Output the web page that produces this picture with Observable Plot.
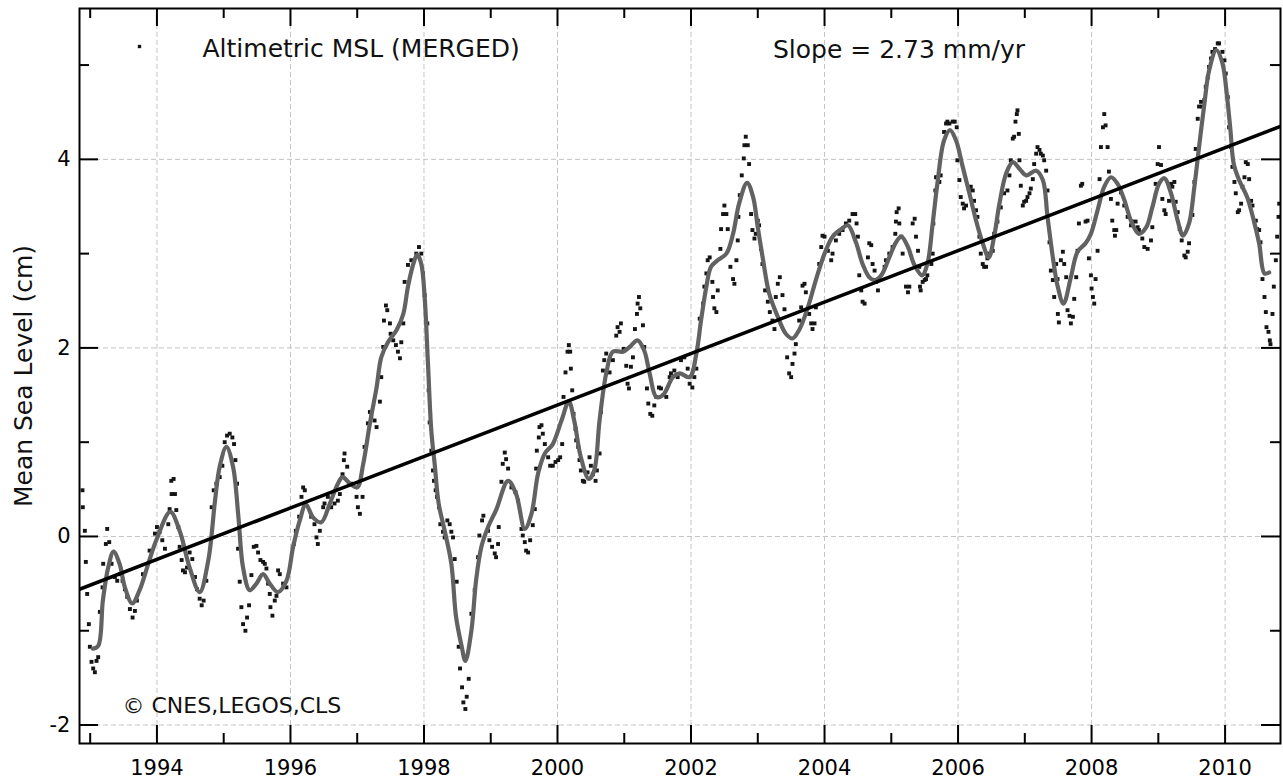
<!DOCTYPE html>
<html><head><meta charset="utf-8">
<script src="https://cdn.jsdelivr.net/npm/d3@7"></script>
<script src="https://cdn.jsdelivr.net/npm/@observablehq/plot@0.6"></script>
<style>body{margin:0;background:#fff}</style>
</head><body><div id="chart"></div>
<script>
// ---- data ----
const dotYear = [
1992.885,1992.89,1992.92,1992.935,1992.955,1992.98,1992.995,1993.02,1993.045,1993.07,1993.095,1993.12,1993.145,1993.185,1993.195,1993.235,1993.255,1993.285,1993.32,1993.37,1993.405,1993.445,1993.485,1993.52,1993.555,1993.595,1993.635,1993.67,1993.70,1993.79,1993.89,1993.97,1994.00,1994.04,1994.08,1994.12,1994.17,1994.19,1994.215,1994.22,1994.25,1994.27,1994.29,1994.32,1994.34,1994.37,1994.39,1994.42,1994.45,1994.49,1994.53,1994.57,1994.60,1994.64,1994.67,1994.70,1994.74,1994.82,1994.85,1994.89,1994.94,1994.98,1995.015,1995.05,1995.09,1995.13,1995.155,1995.175,1995.20,1995.215,1995.24,1995.265,1995.29,1995.325,1995.35,1995.38,1995.415,1995.45,
1995.49,1995.515,1995.55,1995.59,1995.615,1995.64,1995.665,1995.69,1995.70,1995.73,1995.765,1995.79,1995.815,1995.84,1995.89,1995.94,1996.05,1996.08,1996.13,1996.165,1996.19,1996.215,1996.31,1996.36,1996.39,1996.41,1996.44,1996.49,1996.51,1996.56,1996.61,1996.66,1996.71,1996.74,1996.78,1996.80,1996.81,1996.85,1996.91,1996.99,1997.01,1997.04,1997.08,1997.11,1997.16,1997.19,1997.21,1997.26,1997.29,1997.34,1997.36,1997.39,1997.40,1997.43,1997.45,1997.49,1997.50,1997.54,1997.58,1997.61,1997.64,1997.66,1997.69,1997.71,1997.76,1997.81,1997.885,1997.925,1997.96,1997.985,1998.01,1998.05,1998.07,1998.085,1998.11,1998.135,1998.15,1998.175,1998.195,1998.225,1998.245,1998.285,1998.31,1998.35,1998.385,1998.41,1998.435,1998.46,
1998.49,1998.52,1998.54,1998.57,1998.59,1998.62,1998.64,1998.67,1998.71,1998.76,1998.81,1998.83,1998.87,1998.89,1998.96,1998.98,1999.02,1999.06,1999.08,1999.11,1999.12,1999.16,1999.18,1999.21,1999.23,1999.26,1999.31,1999.37,1999.41,1999.46,1999.48,1999.51,1999.53,1999.56,1999.59,1999.63,1999.66,1999.68,1999.69,1999.72,1999.73,1999.76,1999.78,1999.81,1999.86,1999.89,1999.93,1999.97,2000.01,2000.04,2000.07,2000.09,2000.12,2000.15,2000.17,2000.19,2000.20,2000.22,2000.24,2000.27,2000.28,2000.31,2000.33,2000.35,2000.38,2000.40,2000.45,2000.48,2000.50,2000.53,2000.57,2000.59,2000.63,2000.65,2000.68,2000.70,2000.73,2000.78,2000.83,2000.88,2000.90,2000.93,2000.95,2000.99,2001.03,2001.05,2001.07,2001.10,2001.13,2001.16,2001.19,2001.20,2001.22,2001.24,2001.28,2001.30,2001.34,2001.36,2001.39,2001.42,2001.45,2001.48,2001.52,2001.55,2001.59,
2001.63,2001.68,2001.70,2001.75,2001.80,2001.85,2001.90,2001.95,2001.98,2002.02,2002.05,2002.08,2002.13,2002.18,2002.20,2002.23,2002.25,2002.28,2002.32,2002.33,2002.35,2002.38,2002.40,2002.44,2002.45,2002.48,2002.50,2002.53,2002.55,2002.59,2002.63,2002.65,2002.68,2002.70,2002.71,2002.73,2002.76,2002.79,2002.80,2002.82,2002.85,2002.87,2002.90,2002.92,2002.95,2002.97,2003.00,2003.02,2003.05,2003.07,2003.11,2003.15,2003.18,2003.22,2003.25,2003.27,2003.30,2003.33,2003.37,2003.40,2003.44,2003.47,2003.50,2003.52,2003.55,2003.57,2003.62,2003.65,2003.67,2003.70,2003.72,2003.77,2003.80,2003.82,2003.85,2003.87,2003.92,2003.95,2003.97,2004.00,2004.05,2004.10,2004.12,2004.17,2004.22,2004.27,2004.32,2004.37,2004.42,2004.46,
2004.48,2004.50,2004.52,2004.55,2004.57,2004.60,2004.65,2004.67,2004.70,2004.72,2004.75,2004.77,2004.80,2004.90,2004.92,2004.97,2005.02,2005.06,2005.07,2005.08,2005.11,2005.12,2005.15,2005.17,2005.22,2005.25,2005.27,2005.32,2005.35,2005.37,2005.40,2005.42,2005.43,2005.44,2005.47,2005.50,2005.52,2005.54,2005.60,2005.62,2005.63,2005.66,2005.67,2005.69,2005.72,2005.74,2005.79,2005.82,2005.84,2005.87,2005.92,2005.95,2005.98,2005.99,2006.02,2006.04,2006.07,2006.09,2006.12,2006.16,2006.19,2006.22,2006.24,2006.27,2006.29,2006.32,2006.34,2006.37,2006.39,2006.42,2006.44,2006.47,2006.52,2006.54,2006.57,2006.59,2006.64,2006.69,2006.74,2006.77,2006.79,2006.82,2006.84,2006.86,2006.88,2006.89,2006.91,2006.92,2006.94,2006.97,2006.99,2007.02,2007.04,2007.07,2007.09,2007.12,2007.14,2007.17,2007.19,2007.22,2007.24,2007.27,2007.29,2007.32,2007.34,2007.37,2007.39,2007.42,2007.44,
2007.47,2007.49,2007.495,2007.51,2007.54,2007.57,2007.59,2007.62,2007.64,2007.67,2007.69,2007.72,2007.74,2007.77,2007.79,2007.81,2007.84,2007.86,2007.91,2007.94,2007.96,2007.99,2008.00,2008.02,2008.04,2008.06,2008.09,2008.12,2008.14,2008.17,2008.19,2008.21,2008.24,2008.26,2008.29,2008.31,2008.34,2008.35,2008.37,2008.39,2008.44,2008.49,2008.54,2008.59,2008.61,2008.66,2008.69,2008.71,2008.76,2008.79,2008.84,2008.89,2008.91,2008.96,2008.99,2009.01,2009.04,2009.06,2009.09,2009.11,2009.16,2009.19,2009.21,2009.24,2009.26,2009.29,2009.32,2009.35,2009.39,2009.41,2009.44,2009.46,2009.51,2009.54,2009.56,2009.59,2009.61,2009.64,2009.66,2009.69,2009.71,2009.74,2009.76,2009.79,2009.81,2009.85,2009.89,2009.91,2009.96,2009.99,2010.01,2010.04,2010.06,2010.09,2010.11,2010.14,2010.16,2010.19,2010.21,2010.24,2010.26,2010.29,2010.31,2010.34,2010.36,2010.39,2010.41,2010.46,2010.48,2010.51,2010.53,2010.56,2010.59,2010.61,2010.62,2010.65,2010.67,2010.68,2010.71,2010.73,2010.76,2010.78,2010.80,2010.81
];
const dotMSL = [
0.49,0.31,0.06,-0.27,-0.61,-0.93,-1.17,-1.33,-1.40,-1.44,-1.32,-1.28,-0.80,-0.54,-0.29,-0.08,0.08,-0.06,-0.29,-0.43,-0.47,-0.40,-0.47,-0.56,-0.64,-0.77,-0.86,-0.79,-0.68,-0.40,-0.15,0.03,0.10,0.05,-0.04,-0.13,0.13,0.29,0.59,0.45,0.61,0.45,0.28,0.10,-0.11,-0.25,-0.36,-0.38,-0.33,-0.17,-0.24,-0.43,-0.56,-0.66,-0.73,-0.68,-0.47,0.31,0.49,0.56,0.63,0.75,1.00,1.07,1.09,1.05,0.98,0.81,0.56,-0.13,-0.48,-0.75,-0.93,-1.00,-0.86,-0.73,-0.41,-0.11,
-0.10,-0.17,-0.25,-0.27,-0.29,-0.34,-0.50,-0.61,-0.75,-0.84,-0.68,-0.63,-0.36,-0.40,-0.50,-0.54,-0.08,0.06,0.21,0.42,0.52,0.49,0.21,0.13,-0.01,-0.08,0.06,0.31,0.35,0.42,0.31,0.35,0.38,0.45,0.66,0.81,0.88,0.74,0.56,0.42,0.31,0.24,0.42,0.95,1.20,1.32,1.27,1.23,1.16,1.43,1.69,2.01,2.29,2.45,2.40,2.26,2.15,2.08,2.03,1.96,1.89,2.06,2.26,2.70,2.88,2.93,3.00,3.07,3.00,2.79,2.56,2.26,1.55,1.21,0.91,0.70,0.59,0.49,0.42,0.31,0.13,0.05,-0.01,0.17,0.13,0.05,-0.01,-0.24,
-0.48,-1.17,-1.40,-1.60,-1.76,-1.83,-1.70,-1.51,-0.82,-0.57,-0.22,0.01,0.17,0.22,0.06,-0.04,-0.11,-0.18,-0.22,-0.08,0.10,0.58,0.77,0.89,0.82,0.72,0.52,0.47,0.38,0.08,0.01,-0.06,-0.15,-0.17,-0.04,0.12,0.29,0.72,0.91,1.05,1.16,1.18,1.09,0.98,0.84,0.75,0.75,0.79,0.81,0.84,0.98,1.48,1.74,1.96,2.03,1.96,1.78,1.55,1.30,1.14,1.02,0.95,0.81,0.70,0.59,0.58,0.68,0.84,0.75,0.66,0.59,0.70,0.88,1.32,1.76,1.87,1.94,1.74,1.87,2.13,2.22,2.17,2.26,1.99,1.81,1.62,1.57,1.80,1.90,2.20,2.36,2.47,2.54,2.42,2.24,2.01,1.57,1.41,1.30,1.28,1.39,1.48,1.58,1.57,1.50,
1.48,1.69,1.73,1.76,1.69,1.87,1.90,1.78,1.62,1.58,1.69,1.78,2.31,2.47,2.65,2.79,2.93,2.96,2.70,2.54,2.42,2.38,2.61,3.05,3.26,3.42,3.51,3.42,3.26,2.86,2.73,2.68,2.93,3.14,3.39,3.62,3.83,4.01,4.15,4.24,4.15,3.95,3.42,3.25,3.16,3.21,3.35,3.30,3.05,2.89,2.61,2.49,2.38,2.29,2.20,2.54,2.68,2.75,2.56,2.41,1.90,1.73,1.69,1.83,1.94,2.04,2.29,2.43,2.66,2.68,2.59,2.36,2.26,2.20,2.26,2.43,2.89,3.07,3.19,3.18,3.03,2.93,3.00,3.14,3.21,3.25,3.32,3.35,3.42,3.42,
3.32,3.18,2.77,2.61,2.49,2.47,2.96,3.11,3.09,2.89,2.82,2.70,2.61,2.86,2.93,3.00,3.07,3.21,3.34,3.44,3.48,3.32,3.18,3.00,2.65,2.59,2.65,3.32,3.37,3.18,3.03,2.86,2.65,2.61,2.70,2.72,2.73,2.77,2.89,3.00,3.32,3.67,3.81,3.81,3.76,3.83,4.29,4.38,4.40,4.38,4.40,4.40,4.34,3.99,3.78,3.60,3.53,3.48,3.51,3.69,3.71,3.67,3.56,3.46,3.39,3.18,3.00,2.89,2.86,2.86,2.95,3.00,3.03,3.21,3.30,3.34,3.49,3.64,3.67,3.83,3.99,4.22,4.24,4.40,4.48,4.52,4.27,3.99,3.72,3.51,3.55,3.56,3.60,3.64,3.69,3.79,3.95,4.06,4.13,4.10,4.06,4.04,3.99,3.88,3.67,3.12,2.82,2.72,2.54,
2.89,2.73,2.36,2.27,2.93,3.02,2.89,2.75,2.40,2.34,2.26,2.33,2.52,2.75,3.03,3.32,3.72,3.74,3.34,3.35,2.95,2.77,2.63,2.54,2.47,2.73,3.03,3.79,4.13,4.34,4.48,4.36,4.13,3.87,3.58,3.35,3.25,3.19,3.25,3.53,3.65,3.51,3.39,3.30,3.34,3.34,3.28,3.25,3.16,3.07,3.05,3.14,3.28,3.74,3.95,4.13,3.94,3.58,3.46,3.42,3.56,3.74,3.71,3.76,3.55,3.44,3.26,3.14,2.98,2.96,3.02,3.11,3.41,3.76,4.11,4.43,4.56,4.61,4.56,4.63,4.77,4.87,4.98,5.07,5.14,5.17,5.23,5.23,5.14,5.05,4.91,4.66,4.34,4.13,3.92,3.76,3.64,3.44,3.46,3.53,3.71,3.81,3.97,3.95,3.79,3.56,3.51,3.35,3.26,3.25,3.12,2.73,2.54,2.38,2.22,2.17,2.08,2.04,2.36,2.65,2.93,3.18,3.39,3.53
];
const smoothYear = [
1993.04,1993.12,1993.19,1993.27,1993.35,1993.44,1993.52,1993.63,1993.74,1993.87,1993.99,1994.20,1994.34,1994.49,1994.64,1994.77,1994.87,1994.94,1995.04,1995.14,1995.22,1995.29,1995.39,1995.49,1995.59,1995.69,1995.81,1995.94,1996.04,1996.14,1996.23,1996.34,1996.46,1996.59,1996.71,1996.78,1996.89,1997.00,1997.09,1997.19,1997.29,1997.36,1997.46,1997.59,1997.69,1997.76,1997.84,1997.90,1997.96,1998.01,1998.06,1998.11,1998.16,1998.22,1998.31,1998.41,1998.48,1998.56,1998.62,1998.71,1998.78,1998.86,1998.96,1999.08,1999.26,1999.38,1999.51,1999.61,1999.71,1999.81,1999.93,2000.06,2000.17,2000.25,2000.35,2000.47,2000.55,2000.63,2000.73,2000.83,2000.98,2001.08,2001.20,2001.30,2001.38,2001.48,2001.58,2001.73,2001.83,2001.98,2002.08,2002.15,2002.23,2002.30,2002.40,2002.53,2002.63,2002.72,2002.84,2002.93,2003.00,2003.08,2003.17,2003.30,2003.42,2003.52,2003.62,2003.75,2003.87,2004.00,2004.12,2004.25,2004.35,2004.47,2004.57,2004.67,2004.75,2004.85,2004.97,2005.07,2005.15,2005.25,2005.34,2005.46,2005.54,2005.62,2005.69,2005.79,2005.88,2005.97,2006.07,2006.17,2006.27,2006.37,2006.46,2006.54,2006.62,2006.72,2006.82,2006.92,2007.02,2007.17,2007.27,2007.34,2007.42,2007.49,2007.58,2007.69,2007.79,2007.91,2007.99,2008.09,2008.19,2008.29,2008.39,2008.49,2008.59,2008.71,2008.82,2008.91,2009.01,2009.09,2009.19,2009.29,2009.37,2009.46,2009.54,2009.61,2009.69,2009.76,2009.87,2009.96,2010.03,2010.08,2010.13,2010.21,2010.33,2010.43,2010.51,2010.59,2010.66
];
const smoothMSL = [
-1.19,-1.16,-0.68,-0.33,-0.16,-0.29,-0.54,-0.71,-0.57,-0.29,-0.04,0.26,0.06,-0.33,-0.59,-0.25,0.38,0.74,0.95,0.74,0.21,-0.33,-0.57,-0.50,-0.40,-0.50,-0.59,-0.47,-0.11,0.17,0.34,0.20,0.15,0.35,0.56,0.63,0.56,0.52,0.77,1.20,1.58,1.90,2.06,2.19,2.36,2.65,2.89,2.99,2.89,2.54,1.83,1.12,0.77,0.35,0.06,-0.29,-0.85,-1.15,-1.32,-1.00,-0.47,-0.11,0.10,0.28,0.59,0.45,0.08,0.24,0.67,0.88,0.98,1.23,1.43,1.23,0.84,0.61,0.70,1.23,1.73,1.96,1.96,2.01,2.08,1.97,1.73,1.48,1.50,1.69,1.73,1.69,1.94,2.29,2.65,2.86,2.93,3.00,3.21,3.53,3.75,3.60,3.28,2.93,2.58,2.33,2.15,2.10,2.19,2.43,2.72,3.00,3.18,3.26,3.30,3.12,2.89,2.75,2.72,2.77,2.96,3.12,3.18,3.07,2.89,2.77,2.89,3.32,3.74,4.20,4.31,4.20,3.92,3.64,3.35,3.11,2.96,3.18,3.53,3.85,3.97,3.90,3.83,3.88,3.78,3.39,2.96,2.66,2.47,2.75,3.02,3.11,3.21,3.46,3.71,3.81,3.74,3.57,3.35,3.21,3.28,3.49,3.74,3.80,3.64,3.35,3.19,3.32,3.71,4.13,4.59,4.94,5.16,5.02,4.66,4.31,3.95,3.78,3.60,3.35,3.11,2.79,2.80
];
const trendYear = [1992.84, 2010.83];
const trendMSL = [-0.56, 4.35];
const xMajor = [1994, 1996, 1998, 2000, 2002, 2004, 2006, 2008, 2010];
const xMinor = [1993, 1995, 1997, 1999, 2001, 2003, 2005, 2007, 2009];
const yMajor = [-2, 0, 2, 4];
const yMinor = [-1, 1, 3, 5];
const legendLabel = "Altimetric MSL (MERGED)";
const slopeLabel = "Slope = 2.73 mm/yr";
const creditLabel = "\u00A9 CNES,LEGOS,CLS";
const yTitle = "Mean Sea Level (cm)";

// ---- build ----
const dots = dotYear.map((t, i) => ({t, v: dotMSL[i]}));
const smooth = smoothYear.map((t, i) => ({t, v: smoothMSL[i]}));
const trend = trendYear.map((t, i) => ({t, v: trendMSL[i]}));

const W = 1283, H = 780, mL = 79, mR = 3, mT = 8, mB = 37;
const innerW = W - mL - mR, innerH = H - mT - mB;
const majLen = 18, minLen = 10;
const tickStyle = {stroke: "#000", strokeWidth: 2};
const gridStyle = {stroke: "#c4c4c4", strokeWidth: 1, strokeDasharray: "5,3"};

const chart = Plot.plot({
  width: W, height: H,
  marginLeft: mL, marginRight: mR, marginTop: mT, marginBottom: mB,
  style: {fontFamily: "DejaVu Sans", background: "#fff", color: "#000", overflow: "visible"},
  x: {domain: [1992.84, 2010.83]},
  y: {domain: [-2.196, 5.6]},
  marks: [
    Plot.ruleX(xMajor, {x: d => d, ...gridStyle}),
    Plot.ruleY(yMajor, {y: d => d, ...gridStyle}),
    Plot.dot(dots, {x: "t", y: "v", symbol: "square", r: 2.2, fill: "#151515", clip: true}),
    Plot.line(smooth, {x: "t", y: "v", stroke: "#626262", strokeWidth: 4.2, curve: "catmull-rom", clip: true}),
    Plot.line(trend, {x: "t", y: "v", stroke: "#000", strokeWidth: 3.5, clip: true}),
    // inward ticks: bottom / top
    Plot.tickX(xMajor, {x: d => d, insetTop: innerH - majLen, ...tickStyle}),
    Plot.tickX(xMinor, {x: d => d, insetTop: innerH - minLen, ...tickStyle}),
    Plot.tickX(xMajor, {x: d => d, insetBottom: innerH - majLen, ...tickStyle}),
    Plot.tickX(xMinor, {x: d => d, insetBottom: innerH - minLen, ...tickStyle}),
    // inward ticks: left / right
    Plot.tickY(yMajor, {y: d => d, insetRight: innerW - majLen - 1, ...tickStyle}),
    Plot.tickY(yMinor, {y: d => d, insetRight: innerW - minLen, ...tickStyle}),
    Plot.tickY(yMajor, {y: d => d, insetLeft: innerW - majLen - 1, ...tickStyle}),
    Plot.tickY(yMinor, {y: d => d, insetLeft: innerW - minLen, ...tickStyle}),
    Plot.frame({stroke: "#000", strokeWidth: 2}),
    Plot.axisX({ticks: xMajor, tickSize: 0, tickPadding: 17, fontSize: 21, tickFormat: d => String(d), label: null}),
    Plot.axisY({ticks: yMajor, tickSize: 0, tickPadding: 9, fontSize: 21, tickFormat: d => String(d), label: null}),
    Plot.text([yTitle], {frameAnchor: "left", text: d => d, dx: -56, rotate: -90, textAnchor: "middle", lineAnchor: "middle", fontSize: 25, fill: "#111"}),
    Plot.dot([legendLabel], {frameAnchor: "top-left", dx: 60, dy: 38, symbol: "square", r: 1.9, fill: "#151515"}),
    Plot.text([legendLabel], {frameAnchor: "top-left", text: d => d, dx: 123, dy: 48, textAnchor: "start", lineAnchor: "bottom", fontSize: 25, fill: "#111"}),
    Plot.text([slopeLabel], {frameAnchor: "top-left", text: d => d, dx: 693.5, dy: 49, textAnchor: "start", lineAnchor: "bottom", fontSize: 25, fill: "#111"}),
    Plot.text([creditLabel], {frameAnchor: "bottom-left", text: d => d, dx: 43, dy: -31, textAnchor: "start", lineAnchor: "bottom", fontSize: 22, fill: "#111"})
  ]
});
document.getElementById("chart").appendChild(chart);
</script>
</body></html>
